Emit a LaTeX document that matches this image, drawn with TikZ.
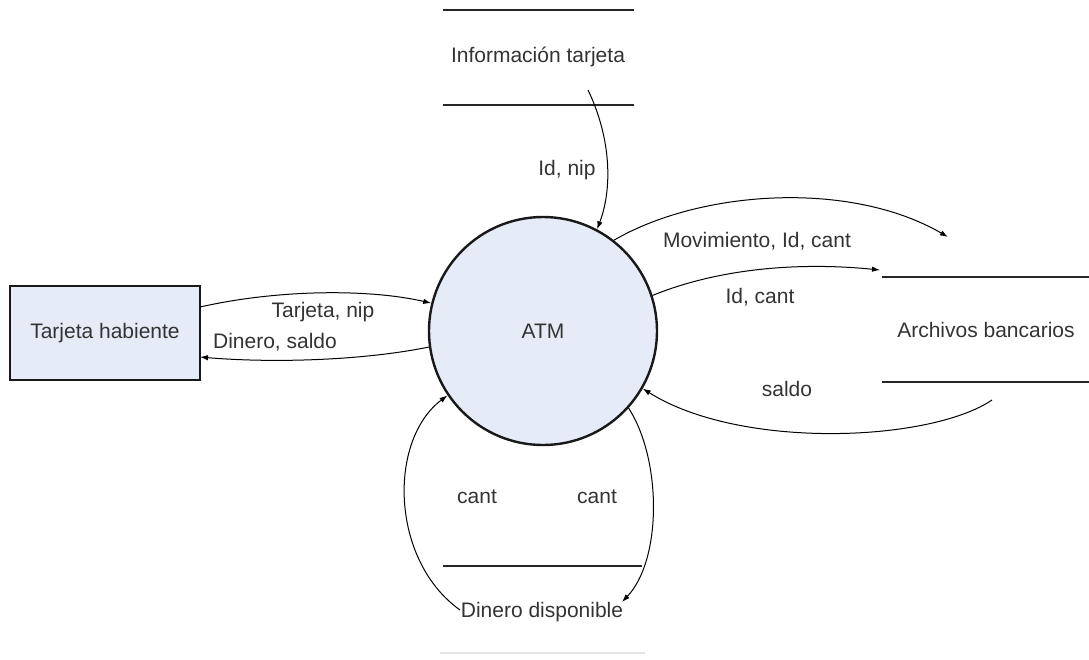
\documentclass[tikz,border=0pt]{standalone}
\usepackage{fontspec}
\setmainfont{Liberation Sans}
\usetikzlibrary{arrows.meta}
\definecolor{procfill}{HTML}{E6ECF7}
\definecolor{inkgray}{HTML}{333333}
\begin{document}
\begin{tikzpicture}[x=1pt,y=-1pt,
  txt/.style={text=inkgray,font=\fontsize{21}{25}\selectfont,inner sep=0pt},
  flow/.style={line width=1pt,-{Latex[length=8pt,width=5.5pt]}},
  storeline/.style={line width=2.4pt,draw=black!85},
  process/.style={circle,draw=black!90,line width=2.4pt,fill=procfill,minimum size=228pt,inner sep=0pt,txt},
  entity/.style={rectangle,draw=black!90,line width=2.4pt,fill=procfill,minimum width=190pt,minimum height=94pt,inner sep=0pt,txt}]
\useasboundingbox (0,0) rectangle (1089,659);

% process and external entity
\node[process] (atm) at (543,331) {ATM};
\node[entity] (th) at (105,333) {Tarjeta habiente};

% data store: Información tarjeta
\coordinate (it1) at (443,10);  \coordinate (it2) at (634,10);
\coordinate (it3) at (443,105); \coordinate (it4) at (634,105);
\draw[storeline] (it1) -- (it2);
\draw[storeline] (it3) -- (it4);
\node[txt] (itlabel) at (538,57) {Información tarjeta};

% data store: Archivos bancarios
\coordinate (ab1) at (882,277); \coordinate (ab2) at (1089,277);
\coordinate (ab3) at (882,382); \coordinate (ab4) at (1089,382);
\draw[storeline] (ab1) -- (ab2);
\draw[storeline] (ab3) -- (ab4);
\node[txt] (ablabel) at (986,330) {Archivos bancarios};

% data store: Dinero disponible
\coordinate (dd1) at (443,566); \coordinate (dd2) at (642,566);
\coordinate (dd3) at (440,653); \coordinate (dd4) at (645,653);
\draw[storeline] (dd1) -- (dd2);
\draw[line width=1.5pt,draw=black!10] (dd3) -- (dd4);
\node[txt] (ddlabel) at (542,612) {Dinero disponible};

% flow end points
\coordinate (thout) at (200,307);
\coordinate (thin) at (200,357);
\coordinate (itout) at (588,90);
\coordinate (movend) at (948,237);
\coordinate (abin) at (880,270);
\coordinate (about) at (992,400);
\coordinate (ddout) at (460,610);
\coordinate (ddin) at (622,602);

% data flows
\draw[flow] (thout) .. controls (280,289) and (370,289) .. (atm.166);
\draw[flow] (atm.188) .. controls (360,361) and (270,363) .. (thin);
\draw[flow] (itout) .. controls (612,140) and (612,190) .. (atm.62);
\draw[flow] (atm.52) .. controls (700,190) and (850,180) .. (movend);
\draw[flow] (atm.18) .. controls (720,268) and (800,262) .. (abin);
\draw[flow] (about) .. controls (930,442) and (740,450) .. (atm.-30);
\draw[flow] (ddout) .. controls (390,560) and (388,440) .. (atm.214);
\draw[flow] (atm.-42) .. controls (662,460) and (662,560) .. (ddin);

% flow labels
\node[txt] (l1) at (323,312) {Tarjeta, nip};
\node[txt] (l2) at (275,342) {Dinero, saldo};
\node[txt] (l3) at (567,170) {Id, nip};
\node[txt] (l4) at (757,241) {Movimiento, Id, cant};
\node[txt] (l5) at (760,297) {Id, cant};
\node[txt] (l6) at (787,389) {saldo};
\node[txt] (l7) at (477,497) {cant};
\node[txt] (l8) at (597,497) {cant};
\end{tikzpicture}
\end{document}
